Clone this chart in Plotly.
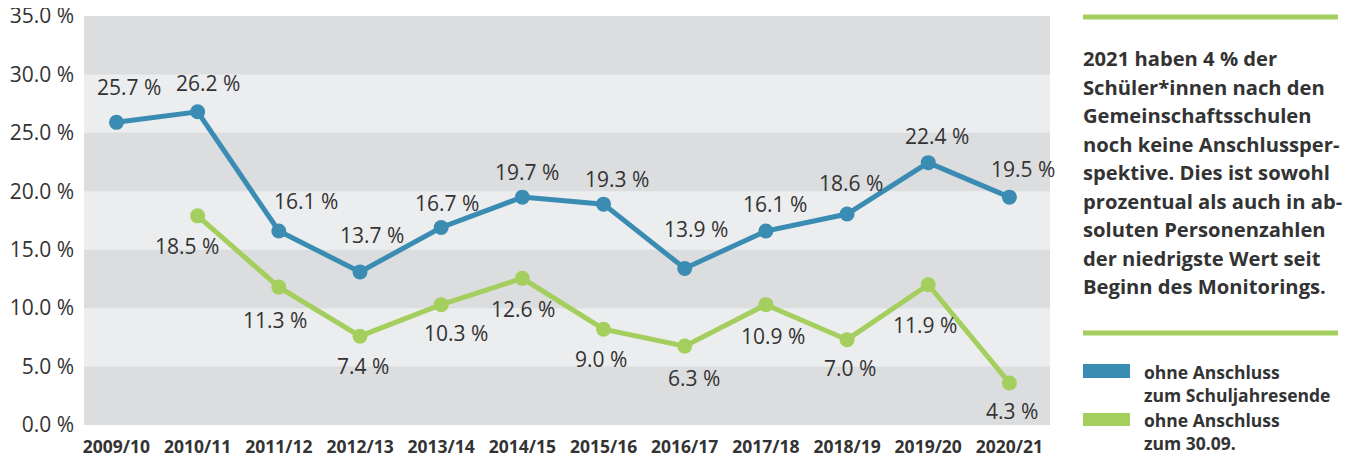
import plotly.graph_objects as go

# ---------------- data ----------------
categories = ["2009/10", "2010/11", "2011/12", "2012/13", "2013/14", "2014/15",
              "2015/16", "2016/17", "2017/18", "2018/19", "2019/20", "2020/21"]
# plotted positions
blue_values = [25.9, 26.8, 16.6, 13.1, 16.9, 19.5, 18.9, 13.4, 16.6, 18.05, 22.45, 19.5]
green_values = [None, 17.9, 11.8, 7.6, 10.3, 12.55, 8.2, 6.75, 10.3, 7.3, 12.0, 3.6]
# printed labels
blue_labels = ["25.7 %", "26.2 %", "16.1 %", "13.7 %", "16.7 %", "19.7 %",
               "19.3 %", "13.9 %", "16.1 %", "18.6 %", "22.4 %", "19.5 %"]
green_labels = [None, "18.5 %", "11.3 %", "7.4 %", "10.3 %", "12.6 %",
                "9.0 %", "6.3 %", "10.9 %", "7.0 %", "11.9 %", "4.3 %"]
y_ticks = [0, 5, 10, 15, 20, 25, 30, 35]
y_tick_labels = ["0.0 %", "5.0 %", "10.0 %", "15.0 %", "20.0 %", "25.0 %", "30.0 %", "35.0 %"]
series_names = ["ohne Anschluss<br>zum Schuljahresende", "ohne Anschluss<br>zum 30.09."]
side_text = ["2021 haben 4 % der", "Schüler*innen nach den", "Gemeinschaftsschulen",
             "noch keine Anschlussper-", "spektive. Dies ist sowohl",
             "prozentual als auch in ab-", "soluten Personenzahlen",
             "der niedrigste Wert seit", "Beginn des Monitorings."]

# ---------------- style ----------------
BLUE = "#3b8cb3"
GREEN = "#a4cf5f"
DARK_BAND = "#dcdddf"
LIGHT_BAND = "#ecedef"
TXT = "#333333"
FONT = "Open Sans"

VW, VH = 1351, 458          # viewport
OX, OY = 8, 8               # page body margin
W, H = VW - OX, VH - OY     # figure size
L, R, T, B = 84, 1050, 16, 425  # plot area in page pixels

def px(x):
    return (x - L) / (R - L)

def py(y):
    return (B - y) / (B - T)

# label offsets (pixels) relative to points
blue_off = [(13, -35), (10, -29), (27, -30), (12, -37), (6, -25), (5, -25),
            (13, -25), (11, -39), (9, -27), (4, -31), (9, -27), (14, -28)]
green_off = [None, (-11, 30), (-4, 33), (3, 30), (15, 28), (1, 31),
             (-3, 30), (9, 32), (7, 31), (3, 28), (-3, 40), (3, 28)]

fig = go.Figure()
fig.add_trace(go.Scatter(x=categories, y=blue_values, mode="lines+markers",
                         line=dict(color=BLUE, width=5), marker=dict(size=15, color=BLUE),
                         name=series_names[0], showlegend=False, hoverinfo="skip"))
fig.add_trace(go.Scatter(x=categories, y=green_values, mode="lines+markers",
                         line=dict(color=GREEN, width=5), marker=dict(size=15, color=GREEN),
                         name=series_names[1], showlegend=False, hoverinfo="skip"))

LBL = 21
annotations = []
for cat, v, lab, off in zip(categories, blue_values, blue_labels, blue_off):
    annotations.append(dict(x=cat, y=v, xref="x", yref="y", text=lab, showarrow=False,
                            xshift=off[0], yshift=-off[1],
                            font=dict(family=FONT, size=LBL, color=TXT)))
for cat, v, lab, off in zip(categories, green_values, green_labels, green_off):
    if lab is None:
        continue
    annotations.append(dict(x=cat, y=v, xref="x", yref="y", text=lab, showarrow=False,
                            xshift=off[0], yshift=-off[1],
                            font=dict(family=FONT, size=LBL, color=TXT)))

# side text
for i, line in enumerate(side_text):
    base = 65 + 28.5 * i
    annotations.append(dict(x=px(1081), y=py(base - 7), xref="paper", yref="paper",
                            xanchor="left", yanchor="middle", text="<b>%s</b>" % line,
                            showarrow=False, font=dict(family=FONT, size=20.2, color=TXT)))
# legend texts
for name, ycen in zip(series_names, [383, 431]):
    annotations.append(dict(x=px(1142), y=py(ycen), xref="paper", yref="paper",
                            xanchor="left", yanchor="middle", align="left",
                            text="<b>%s</b>" % name, showarrow=False,
                            font=dict(family=FONT, size=17.5, color=TXT)))

shapes = []
for lo in [0, 10, 20, 30]:
    shapes.append(dict(type="rect", xref="paper", yref="y", x0=0, x1=1, y0=lo, y1=lo + 5,
                       fillcolor=DARK_BAND, line=dict(width=0), layer="below"))
for yline in [17, 333]:
    shapes.append(dict(type="line", xref="paper", yref="paper", x0=px(1083), x1=px(1338),
                       y0=py(yline), y1=py(yline), line=dict(color=GREEN, width=5)))
for col, (y0, y1) in zip([BLUE, GREEN], [(364, 378), (413, 426)]):
    shapes.append(dict(type="rect", xref="paper", yref="paper", x0=px(1083), x1=px(1130),
                       y0=py(y1), y1=py(y0), fillcolor=col, line=dict(width=0)))

fig.update_layout(
    width=W, height=H,
    margin=dict(l=L - OX, r=VW - R, t=T - OY, b=VH - B, pad=0, autoexpand=False),
    paper_bgcolor="white", plot_bgcolor=LIGHT_BAND,
    annotations=annotations, shapes=shapes,
    showlegend=False,
)
fig.update_xaxes(type="category", range=[-0.4, 11.5], showgrid=False, zeroline=False,
                 showline=False, ticks="", automargin=False, ticklabelstandoff=9,
                 ticklabeloverflow="allow",
                 tickfont=dict(family=FONT, size=17.5, color=TXT),
                 ticktext=["<b>%s</b>" % c for c in categories], tickvals=categories)
fig.update_yaxes(range=[0, 35], tickvals=y_ticks, ticktext=y_tick_labels, showgrid=False,
                 zeroline=False, showline=False, ticks="", automargin=False,
                 ticklabelstandoff=9, ticklabeloverflow="allow",
                 tickfont=dict(family=FONT, size=21, color=TXT))

fig.write_html("out.html")
